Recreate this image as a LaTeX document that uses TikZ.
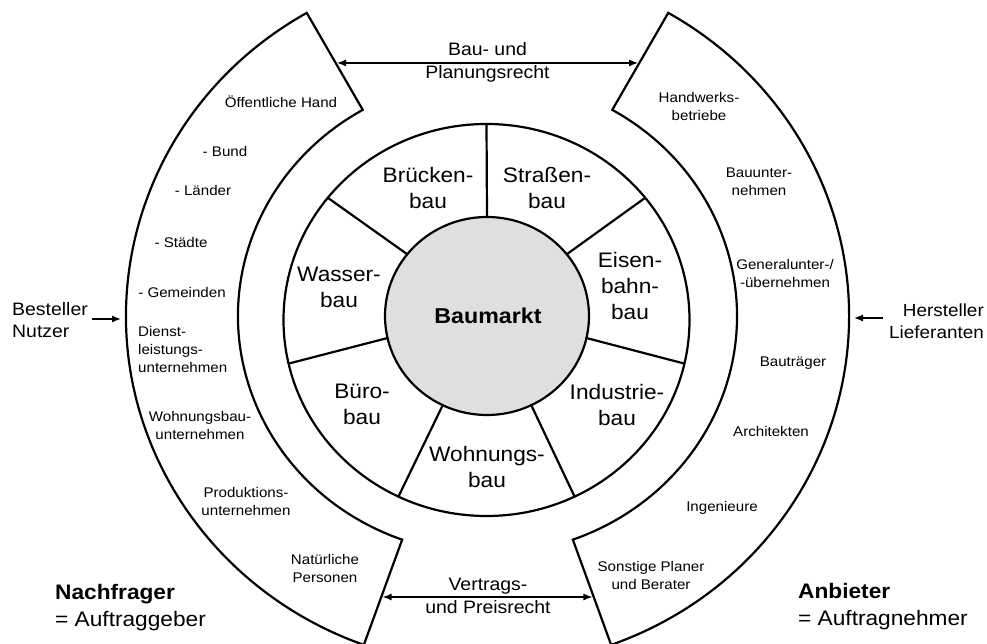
\documentclass[tikz,border=0pt]{standalone}
\usepackage{fontspec}
\setmainfont{Liberation Sans}[FakeStretch=1.08]
\usetikzlibrary{arrows.meta}
\begin{document}
\begin{tikzpicture}[x=1pt,y=1pt,
  outl/.style={line width=2.2pt, line join=miter},
  arr/.style={line width=1.3pt, {Latex[length=9pt,width=7pt]}-{Latex[length=9pt,width=7pt]}},
  arrr/.style={line width=1.3pt, -{Latex[length=9pt,width=7pt]}},
  sect/.style={font=\fontsize{21}{26}\selectfont, align=center, inner sep=0pt},
  small/.style={font=\fontsize{14}{18}\selectfont, align=center, inner sep=0pt},
  law/.style={font=\fontsize{18}{23}\selectfont, align=center, inner sep=0pt},
  side/.style={font=\fontsize{18}{22}\selectfont, inner sep=0pt},
  role/.style={font=\fontsize{21}{27}\selectfont, align=left, inner sep=0pt, anchor=west},
]
\useasboundingbox (0,0) rectangle (987,644);
\coordinate (W) at (487.5,328);
\coordinate (S) at (486.5,324);
\coordinate (G) at (487,328);

% wing corners
\path (W) ++(120:361.5 and 350) coordinate (LOt);
\path (W) ++(250:361.5 and 350) coordinate (LOb);
\path (W) ++(120:249.5 and 238) coordinate (LIt);
\path (W) ++(250:249.5 and 238) coordinate (LIb);
\path (W) ++(60:361.5 and 350) coordinate (ROt);
\path (W) ++(-70:361.5 and 350) coordinate (ROb);
\path (W) ++(60:249.5 and 238) coordinate (RIt);
\path (W) ++(-70:249.5 and 238) coordinate (RIb);

% left wing (Nachfrager)
\draw[outl] (LOt) arc[start angle=120, end angle=250, x radius=361.5, y radius=350]
  -- (LIb) arc[start angle=250, end angle=120, x radius=249.5, y radius=238] -- cycle;
% right wing (Anbieter)
\draw[outl] (ROb) arc[start angle=-70, end angle=60, x radius=361.5, y radius=350]
  -- (RIt) arc[start angle=60, end angle=-70, x radius=249.5, y radius=238] -- cycle;

% sector ring and centre
\draw[outl] (S) ellipse [x radius=203, y radius=196];
\filldraw[outl, fill=gray!25] (G) ellipse [x radius=102, y radius=99];
\foreach \k in {0,...,6}{
  \path (G) ++({90+\k*360/7}:102 and 99) coordinate (i\k);
  \path (S) ++({90+\k*360/7}:203 and 196) coordinate (o\k);
  \draw[outl] (i\k) -- (o\k);
}

% law arrows between the wings
\coordinate (hl) at (0,581);
\coordinate (hr) at (987,581);
\coordinate (bl) at (0,47);
\coordinate (br) at (987,47);
\coordinate (ta) at (intersection of LIt--LOt and hl--hr);
\coordinate (tb) at (intersection of RIt--ROt and hl--hr);
\coordinate (ba) at (intersection of LIb--LOb and bl--br);
\coordinate (bb) at (intersection of RIb--ROb and bl--br);
\draw[arr, shorten <=1.3pt, shorten >=1.3pt] (ta) -- (tb);
\draw[arr, shorten <=1.3pt, shorten >=1.3pt] (ba) -- (bb);

\node[law] (bauplan) at (487.5,581.5) {Bau- und\\Planungsrecht};
\node[law] (vertrag) at (488,48) {Vertrags-\\und Preisrecht};

% side arrows
\coordinate (bA) at (92,325);
\coordinate (bB) at (121,325);
\coordinate (hA) at (883,326);
\coordinate (hB) at (854,326);
\draw[arrr] (bA) -- (bB);
\draw[arrr] (hA) -- (hB);
\node[side, anchor=west, align=left] (best) at (12,324) {Besteller\\Nutzer};
\node[side, anchor=east, align=right, font=\fontsize{17.5}{22}\selectfont] (herst) at (984,323) {Hersteller\\Lieferanten};

% roles
\node[role] (nach) at (55,36.5) {\textbf{Nachfrager}\\= Auftraggeber};
\node[role] (anb) at (798,37.5) {\textbf{Anbieter}\\= Auftragnehmer};

% sectors
\node[font=\fontsize{21.5}{26}\selectfont\bfseries, inner sep=0pt] (markt) at (488,328) {Baumarkt};
\node[sect] (bruecke) at (428,456) {Brücken-\\bau};
\node[sect] (strasse) at (547,456) {Straßen-\\bau};
\node[sect] (wasser) at (339,356.5) {Wasser-\\bau};
\node[sect] (eisen) at (630,358) {Eisen-\\bahn-\\bau};
\node[sect] (buero) at (362,239.5) {Büro-\\bau};
\node[sect] (indu) at (617,239) {Industrie-\\bau};
\node[sect] (wohn) at (487,177.5) {Wohnungs-\\bau};

% left wing items
\node[small] (oeff) at (281,542) {Öffentliche Hand};
\node[small] (bund) at (225,492) {- Bund};
\node[small] (laender) at (203,453) {- Länder};
\node[small] (staedte) at (181,401) {- Städte};
\node[small] (gemeinden) at (182,351) {- Gemeinden};
\node[small, anchor=west, align=left] (dienst) at (138,294) {Dienst-\\leistungs-\\unternehmen};
\node[small] (wbu) at (200,218.5) {Wohnungsbau-\\unternehmen};
\node[small] (prod) at (246,142) {Produktions-\\unternehmen};
\node[small] (nat) at (325,76) {Natürliche\\Personen};

% right wing items
\node[small] (handw) at (699,537) {Handwerks-\\betriebe};
\node[small] (bauu) at (759,462.5) {Bauunter-\\nehmen};
\node[small] (gen) at (785,370) {Generalunter-/\\-übernehmen};
\node[small] (btr) at (793,281) {Bauträger};
\node[small] (arch) at (771,212) {Architekten};
\node[small] (ing) at (722,136) {Ingenieure};
\node[small] (sonst) at (651,68.5) {Sonstige Planer\\und Berater};
\end{tikzpicture}
\end{document}
